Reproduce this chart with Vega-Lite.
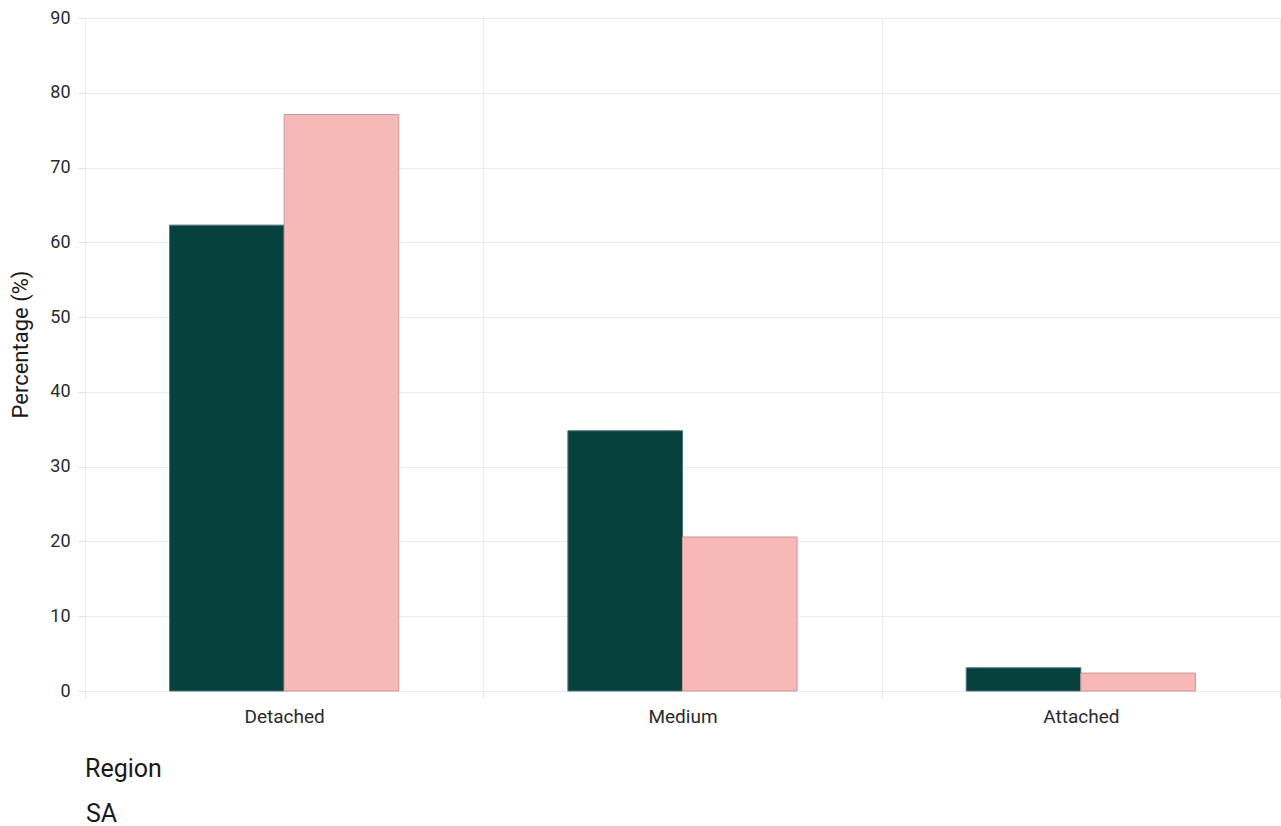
{
  "$schema": "https://vega.github.io/schema/vega-lite/v6.json",
  "width": 1195,
  "height": 673,
  "padding": {"left": 9, "top": 9, "right": 1, "bottom": 5},
  "background": "white",
  "data": {
    "values": [
      {"type": "Detached", "region": "SA", "value": 62.3},
      {"type": "Detached", "region": "Australia", "value": 77.1},
      {"type": "Medium", "region": "SA", "value": 34.8},
      {"type": "Medium", "region": "Australia", "value": 20.6},
      {"type": "Attached", "region": "SA", "value": 3.1},
      {"type": "Attached", "region": "Australia", "value": 2.4}
    ]
  },
  "mark": {"type": "bar", "strokeWidth": 1},
  "encoding": {
    "x": {
      "field": "type",
      "type": "nominal",
      "sort": ["Detached", "Medium", "Attached"],
      "scale": {"paddingInner": 0, "paddingOuter": 0},
      "axis": {
        "title": null,
        "labelAngle": 0,
        "labelFontSize": 19,
        "grid": true,
        "tickBand": "extent",
        "domain": false,
        "tickSize": 7,
        "labelPadding": 9
      }
    },
    "xOffset": {
      "field": "region",
      "type": "nominal",
      "sort": ["SA", "Australia"],
      "scale": {"paddingInner": 0, "paddingOuter": 0.738}
    },
    "y": {
      "field": "value",
      "type": "quantitative",
      "scale": {"domain": [0, 90]},
      "axis": {
        "title": "Percentage (%)",
        "values": [0, 10, 20, 30, 40, 50, 60, 70, 80, 90],
        "domain": false,
        "tickSize": 7,
        "labelPadding": 8,
        "titlePadding": 17,
        "titleFontSize": 22,
        "titleY": 326
      }
    },
    "fill": {
      "field": "region",
      "type": "nominal",
      "sort": ["SA", "Australia"],
      "scale": {"range": ["#07413d", "#f7b8b8"]},
      "legend": {
        "title": "Region",
        "orient": "bottom",
        "direction": "vertical",
        "offset": 31,
        "symbolSize": 0,
        "symbolStrokeWidth": 0,
        "symbolOpacity": 0,
        "labelOffset": -24,
        "titlePadding": 19,
        "rowPadding": 20
      }
    },
    "stroke": {
      "field": "region",
      "type": "nominal",
      "sort": ["SA", "Australia"],
      "scale": {"range": ["#4d7572", "#cf9799"]},
      "legend": null
    }
  },
  "config": {
    "font": "Roboto",
    "view": {"stroke": null},
    "axis": {
      "gridColor": "#ebebeb",
      "gridWidth": 1,
      "tickColor": "#e3e3e3",
      "labelFont": "Roboto",
      "labelFontSize": 18,
      "labelColor": "#2b2b2b",
      "titleFont": "Roboto",
      "titleFontSize": 20,
      "titleFontWeight": "normal",
      "titleColor": "#1a1a1a"
    },
    "legend": {
      "titleFont": "Roboto",
      "titleFontSize": 25,
      "titleFontWeight": "normal",
      "titleColor": "#1a1a1a",
      "labelFont": "Roboto",
      "labelFontSize": 25,
      "labelColor": "#1a1a1a"
    }
  }
}
